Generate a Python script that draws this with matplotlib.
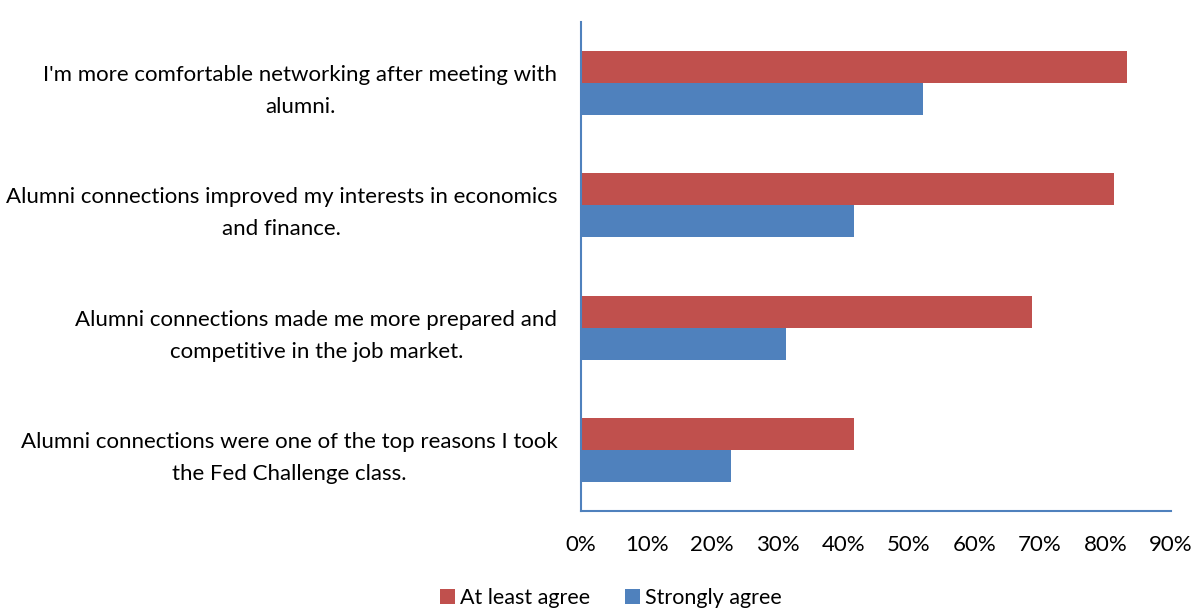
import numpy as np
import matplotlib.pyplot as plt

# survey statements, bottom to top
labels = [
    "Alumni connections were one of the top reasons I took\nthe Fed Challenge class.",
    "Alumni connections made me more prepared and\ncompetitive in the job market.",
    "Alumni connections improved my interests in economics\nand finance.",
    "I'm more comfortable networking after meeting with\nalumni.",
]
at_least_agree = [41.7, 68.75, 81.25, 83.3]
strongly_agree = [22.9, 31.25, 41.7, 52.1]
xticks = [0, 10, 20, 30, 40, 50, 60, 70, 80, 90]

plt.rcParams['font.family'] = ['Lato', 'DejaVu Sans']

fig = plt.figure(figsize=(11.95, 6.1), dpi=100)
ax = fig.add_axes([0.4862, 0.1623, 0.4938, 0.8017])

y = np.arange(len(labels))
h = 0.262
ax.barh(y + h / 2, at_least_agree, height=h, color='#C0504D', label='At least agree')
ax.barh(y - h / 2, strongly_agree, height=h, color='#4F81BD', label='Strongly agree')

ax.set_xlim(0, 90)
ax.set_ylim(-0.5, 3.5)
ax.set_xticks(xticks)
ax.set_xticklabels([f"{t}%" for t in xticks], fontsize=16)
ax.set_yticks(y)
ax.set_yticklabels(labels, fontsize=16, multialignment='center', linespacing=1.75)
ax.tick_params(axis='both', length=0)
ax.tick_params(axis='y', pad=17)
ax.tick_params(axis='x', pad=17)

for s in ['top', 'right']:
    ax.spines[s].set_visible(False)
for s in ['left', 'bottom']:
    ax.spines[s].set_color('#4F81BD')
    ax.spines[s].set_linewidth(1.5)

fig.legend(loc='center', bbox_to_anchor=(0.511, 0.02), ncol=2, frameon=False,
           fontsize=15.5, handlelength=0.7, handleheight=0.7, handletextpad=0.25,
           columnspacing=1.6)

fig.savefig('out.png', dpi=100)
